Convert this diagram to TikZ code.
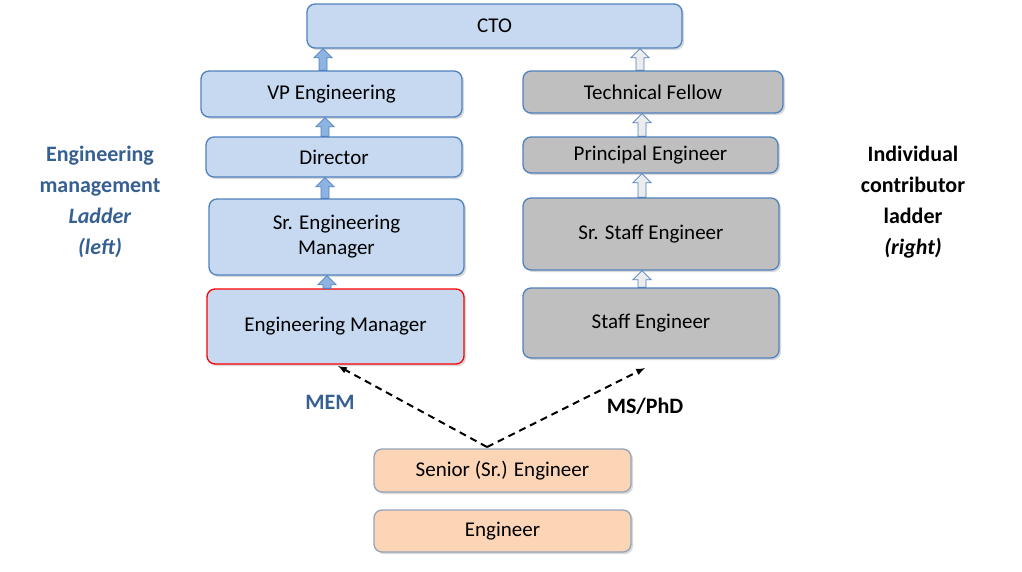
\documentclass[tikz,border=0pt]{standalone}
\usepackage{fontspec}
\setmainfont{Carlito}
\usetikzlibrary{shadows,calc}
\definecolor{bfill}{HTML}{C6D9F1}
\definecolor{bline}{HTML}{4F81BD}
\definecolor{gfill}{HTML}{BFBFBF}
\definecolor{ofill}{HTML}{FBD5B5}
\definecolor{oline}{HTML}{4F81BD}
\definecolor{ltitle}{HTML}{376092}
\definecolor{arrf}{HTML}{8DB3E2}
\tikzset{
 bx/.style={draw=bline,line width=1.3pt,rounded corners=8pt,font=\fontsize{21}{25}\selectfont,align=center,
   drop shadow={shadow xshift=2pt,shadow yshift=-2pt,opacity=0.3}},
 blue/.style={bx,fill=bfill},
 grey/.style={bx,fill=gfill},
 org/.style={bx,fill=ofill,draw=oline!60!ofill},
 barr/.style={fill=arrf,draw=bline,line width=0.8pt},
 garr/.style={fill=gray!15,draw=bline,line width=0.8pt},
 dsh/.style={line width=2pt,-latex,dash pattern=on 7pt off 5pt},
 lbl/.style={font=\bfseries\fontsize{22}{31}\selectfont}
}
\newcommand\blockarr[3]{% style, lower, upper
 \path let \p1=(#2.north), \p2=(#3.south) in
  [#1] (\x1-4pt,\y1) -- (\x1-4pt,\y2-9pt) -- (\x1-9pt,\y2-9pt) -- (\x1,\y2) -- (\x1+9pt,\y2-9pt) -- (\x1+4pt,\y2-9pt) -- (\x1+4pt,\y1) -- cycle;}
\begin{document}
\begin{tikzpicture}[x=1pt,y=-1pt]
\useasboundingbox (0,0) rectangle (1022,571);
\node[blue,minimum width=375pt,minimum height=44pt] (cto) at (494.5,26) {CTO};
\node[blue,minimum width=261pt,minimum height=46pt] (vp) at (331.5,94) {VP Engineering};
\node[blue,minimum width=256pt,minimum height=40pt] (dir) at (334,157) {Director};
\node[blue,minimum width=255pt,minimum height=76pt] (srem) at (336.5,237) {Sr. Engineering\\Manager};
\node[blue,draw=red,minimum width=257pt,minimum height=75pt] (em) at (335.5,326.5) {Engineering Manager};
\node[grey,minimum width=260pt,minimum height=42pt] (tf) at (653,92) {Technical Fellow};
\node[grey,minimum width=255pt,minimum height=36pt] (pe) at (650.5,155) {Principal Engineer};
\node[grey,minimum width=256pt,minimum height=72pt] (sse) at (651,234) {Sr. Staff Engineer};
\node[grey,minimum width=256pt,minimum height=70pt] (se) at (651,323) {Staff Engineer};
\node[org,minimum width=257pt,minimum height=43pt] (sr) at (502.5,470.5) {Senior (Sr.) Engineer};
\node[org,minimum width=257pt,minimum height=42pt] (eng) at (502.5,531) {Engineer};
\coordinate (src) at (487,447);
\coordinate (emt) at (338,366);
\coordinate (set) at (645,368);
\draw[dsh] (src) -- (emt);
\draw[dsh] (src) -- (set);
\node[lbl,text=ltitle] (mem) at (330,402) {MEM};
\node[lbl] (ms) at (645,406) {MS/PhD};
\coordinate (a1) at (323,0);
\blockarr{barr}{vp.north -| a1}{cto.south -| a1}
\coordinate (a2) at (325,0);
\blockarr{barr}{dir.north -| a2}{vp.south -| a2}
\blockarr{barr}{srem.north -| a2}{dir.south -| a2}
\coordinate (a3) at (327,0);
\blockarr{barr}{em.north -| a3}{srem.south -| a3}
\coordinate (c1) at (640,0);
\blockarr{garr}{tf.north -| c1}{cto.south -| c1}
\coordinate (c2) at (642,0);
\blockarr{garr}{pe.north -| c2}{tf.south -| c2}
\blockarr{garr}{sse.north -| c2}{pe.south -| c2}
\blockarr{garr}{se.north -| c2}{sse.south -| c2}
\node[lbl,text=ltitle,align=center] (ll) at (100,202) {Engineering\\management\\\textit{Ladder}\\\textit{(left)}};
\node[lbl,align=center] (rl) at (913,202) {Individual\\contributor\\ladder\\\textit{(right)}};
\end{tikzpicture}
\end{document}
